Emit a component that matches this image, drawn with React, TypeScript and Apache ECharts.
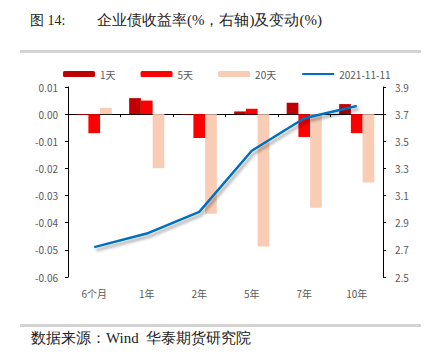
import React, { useEffect, useRef } from "react";
import * as echarts from "echarts";

const categories = ["6个月", "1年", "2年", "5年", "7年", "10年"];
const change1d = [-0.0003, 0.0059, -0.0002, 0.001, 0.0042, 0.0037];
const change5d = [-0.007, 0.005, -0.0088, 0.002, -0.0084, -0.007];
const change20d = [0.0023, -0.0199, -0.0367, -0.0488, -0.0345, -0.0252];
const yield20211111 = [2.72, 2.82, 2.98, 3.43, 3.67, 3.76];
const seriesNames = ["1天", "5天", "20天", "2021-11-11"];
const titleLabel = "图 14:";
const titleText = "企业债收益率(%，右轴)及变动(%)";
const sourceText = "数据来源：Wind  华泰期货研究院";

const labelColor = "#595959";
const labelFont = "'Noto Sans CJK SC', 'Liberation Sans', sans-serif";

export default function App() {
  const ref = useRef<HTMLDivElement>(null);
  useEffect(() => {
    if (!ref.current) return;
    const chart = echarts.init(ref.current, null, { renderer: "svg" });
    chart.setOption({
      animation: false,
      backgroundColor: "#ffffff",
      textStyle: { fontFamily: labelFont },
      graphic: [
        {
          type: "text",
          x: 30,
          y: 20,
          style: { text: titleLabel, font: "14px serif", fill: "#222", verticalAlign: "middle" },
        },
        {
          type: "text",
          x: 97,
          y: 20,
          style: { text: titleText, font: "15px serif", fill: "#222", verticalAlign: "middle" },
        },
        {
          type: "rect",
          shape: { x: 20, y: 50, width: 401, height: 3 },
          style: { fill: "#D3D3D3" },
        },
        {
          type: "rect",
          shape: { x: 20, y: 324, width: 401, height: 3 },
          style: { fill: "#D3D3D3" },
        },
        {
          type: "text",
          x: 31,
          y: 338,
          style: { text: sourceText, font: "15px serif", fill: "#222", verticalAlign: "middle" },
        },
      ],
      legend: {
        left: 58,
        top: 64,
        itemWidth: 32,
        itemHeight: 6,
        itemGap: 25,
        textStyle: { fontSize: 10, color: labelColor, fontFamily: labelFont },
        data: [
          { name: seriesNames[0] },
          { name: seriesNames[1] },
          { name: seriesNames[2] },
          { name: seriesNames[3], itemStyle: { opacity: 0 } },
        ],
      },
      grid: { left: 68, right: 50, top: 87, bottom: 86 },
      xAxis: [
        {
          type: "category",
          data: categories,
          position: "bottom",
          axisLine: { show: false },
          axisTick: { show: false },
          axisLabel: { color: labelColor, fontSize: 10, margin: 11 },
        },
        {
          type: "category",
          data: categories,
          position: "bottom",
          axisLine: { show: true, onZero: true, onZeroAxisIndex: 0, lineStyle: { color: "#000", width: 1 } },
          axisTick: { show: true, inside: false, length: 3, lineStyle: { color: "#000" } },
          axisLabel: { show: false },
        },
      ],
      yAxis: [
        {
          type: "value",
          min: -0.06,
          max: 0.01,
          interval: 0.01,
          position: "left",
          splitLine: { show: false },
          axisLine: { show: true, onZero: false, lineStyle: { color: "#000" } },
          axisTick: { show: true, length: 3, lineStyle: { color: "#000" } },
          axisLabel: {
            color: labelColor,
            fontSize: 10,
            margin: 10,
            formatter: (v: number) => v.toFixed(2),
          },
        },
        {
          type: "value",
          min: 2.5,
          max: 3.9,
          interval: 0.2,
          position: "right",
          splitLine: { show: false },
          axisLine: { show: true, onZero: false, lineStyle: { color: "#000" } },
          axisTick: { show: true, length: 3, lineStyle: { color: "#000" } },
          axisLabel: {
            color: labelColor,
            fontSize: 10,
            margin: 12,
            formatter: (v: number) => v.toFixed(1),
          },
        },
      ],
      series: [
        {
          name: seriesNames[0],
          type: "bar",
          data: change1d,
          xAxisIndex: 0,
          yAxisIndex: 0,
          barGap: "0%",
          barCategoryGap: "33%",
          itemStyle: { color: "#C00000" },
        },
        {
          name: seriesNames[1],
          type: "bar",
          data: change5d,
          xAxisIndex: 0,
          yAxisIndex: 0,
          barGap: "0%",
          barCategoryGap: "33%",
          itemStyle: { color: "#FF0000" },
        },
        {
          name: seriesNames[2],
          type: "bar",
          data: change20d,
          xAxisIndex: 0,
          yAxisIndex: 0,
          barGap: "0%",
          barCategoryGap: "33%",
          itemStyle: { color: "#F9CDB5" },
        },
        {
          name: seriesNames[3],
          type: "line",
          data: yield20211111,
          xAxisIndex: 0,
          yAxisIndex: 1,
          symbol: "none",
          z: 5,
          lineStyle: {
            color: "#0070C0",
            width: 2.5,
            shadowColor: "rgba(0,0,0,0.35)",
            shadowBlur: 3,
            shadowOffsetX: 2,
            shadowOffsetY: 3,
          },
          itemStyle: { color: "#0070C0" },
        },
      ],
    });
    return () => chart.dispose();
  }, []);
  return <div ref={ref} style={{ width: 433, height: 363, position: "absolute", left: 0, top: 0 }} />;
}
